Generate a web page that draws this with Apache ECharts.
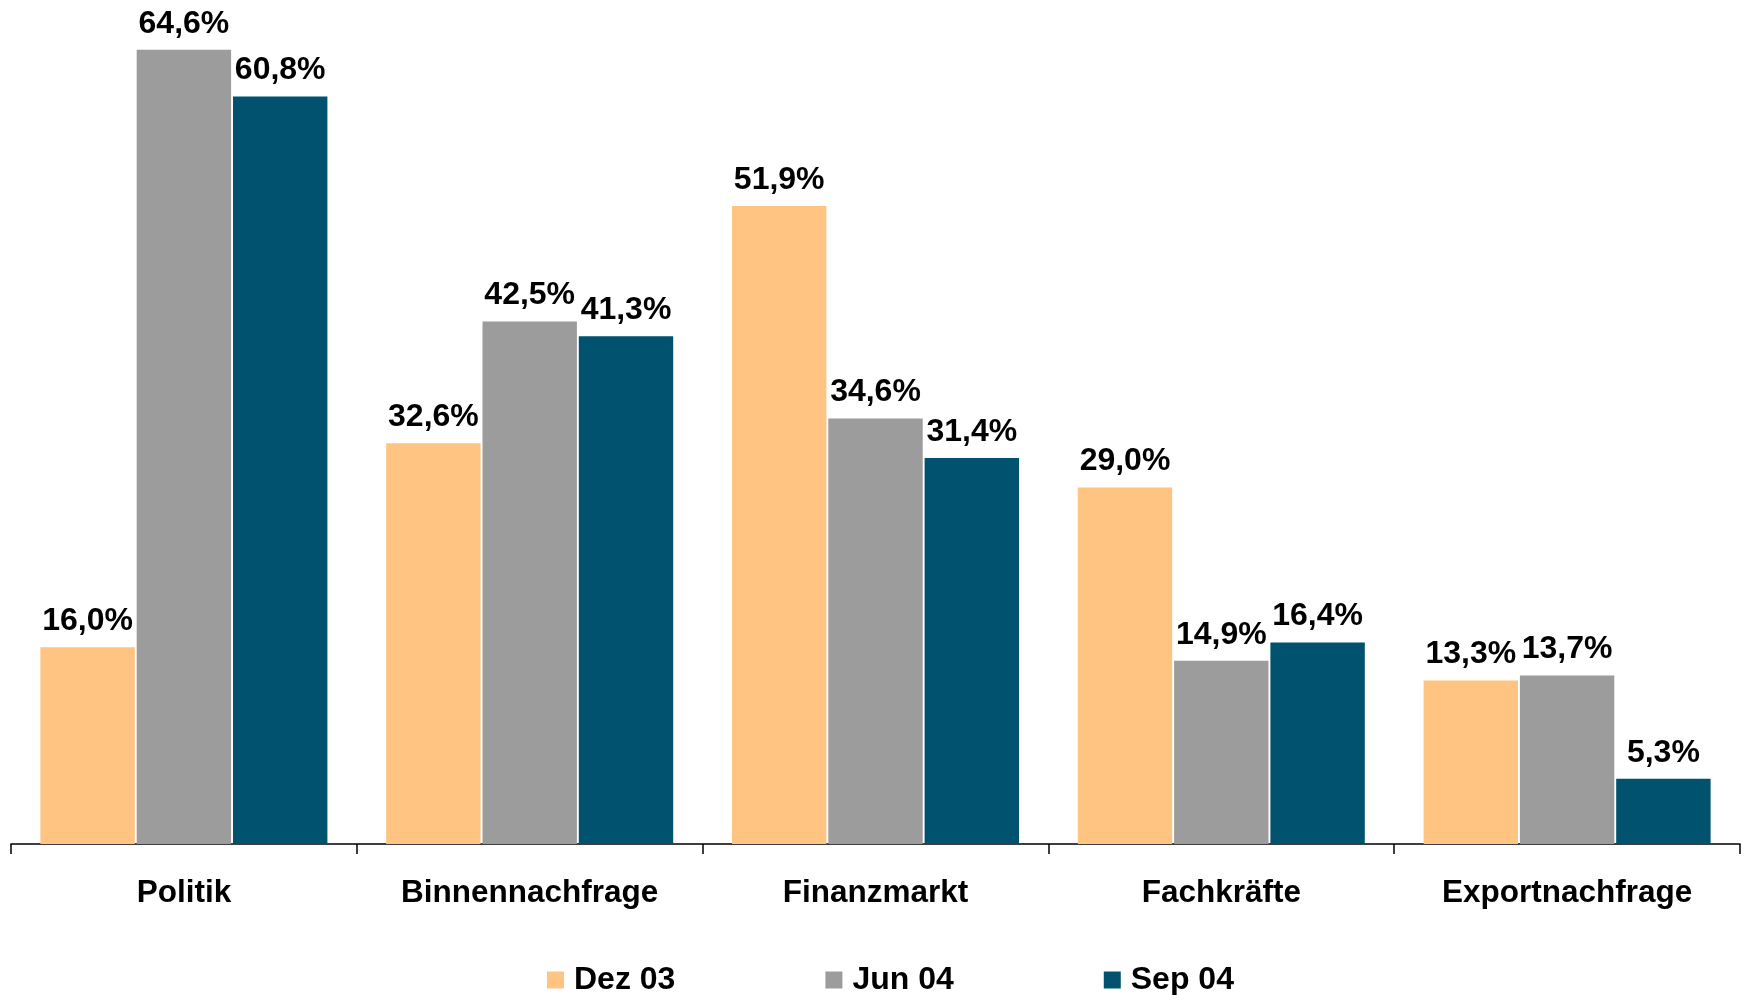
<!DOCTYPE html>
<html>
<head>
<meta charset="utf-8">
<script src="https://cdn.jsdelivr.net/npm/echarts@6/dist/echarts.min.js"></script>
<style>
html,body{margin:0;padding:0;background:#fff;}
#chart{width:1746px;height:995px;}
</style>
</head>
<body>
<div id="chart"></div>
<script>
const categories = ['Politik', 'Binnennachfrage', 'Finanzmarkt', 'Fachkräfte', 'Exportnachfrage'];
const seriesNames = ['Dez 03', 'Jun 04', 'Sep 04'];
const dez03 = [16.0, 32.6, 51.9, 29.0, 13.3];
const jun04 = [64.6, 42.5, 34.6, 14.9, 13.7];
const sep04 = [60.8, 41.3, 31.4, 16.4, 5.3];
const colors = ['#FFC482', '#9C9C9C', '#01526E'];

const font = '"Liberation Sans", Arial, sans-serif';
const chart = echarts.init(document.getElementById('chart'), null, {renderer: 'canvas'});
const fmt = p => p.value.toFixed(1).replace('.', ',') + '%';
const mk = (name, data, color) => ({
  name: name,
  type: 'bar',
  data: data,
  barCategoryGap: '17%',
  barGap: '2%',
  itemStyle: {color: color},
  label: {
    show: true,
    position: 'top',
    distance: 10,
    formatter: fmt,
    fontFamily: font,
    fontWeight: 'bold',
    fontSize: 32,
    color: '#000'
  }
});
chart.setOption({
  animation: false,
  backgroundColor: '#fff',
  color: colors,
  grid: {left: 11, right: 6, top: 8, bottom: 151, containLabel: false},
  legend: {
    data: seriesNames,
    left: 547,
    top: 964,
    itemWidth: 17,
    itemHeight: 17,
    itemGap: 150,
    icon: 'rect',
    textStyle: {fontFamily: font, fontWeight: 'bold', fontSize: 32, color: '#000', padding: [0,0,0,5]},
    padding: 0
  },
  xAxis: {
    type: 'category',
    data: categories,
    axisLine: {lineStyle: {color: '#000', width: 1.5}},
    axisTick: {show: true, length: 10, lineStyle: {color: '#000', width: 1.5}},
    axisLabel: {fontFamily: font, fontWeight: 'bold', fontSize: 31.5, color: '#000', margin: 33}
  },
  yAxis: {
    type: 'value',
    min: 0,
    max: 68,
    show: false,
    splitLine: {show: false}
  },
  series: [mk(seriesNames[0], dez03, colors[0]), mk(seriesNames[1], jun04, colors[1]), mk(seriesNames[2], sep04, colors[2])]
});
</script>
</body>
</html>
